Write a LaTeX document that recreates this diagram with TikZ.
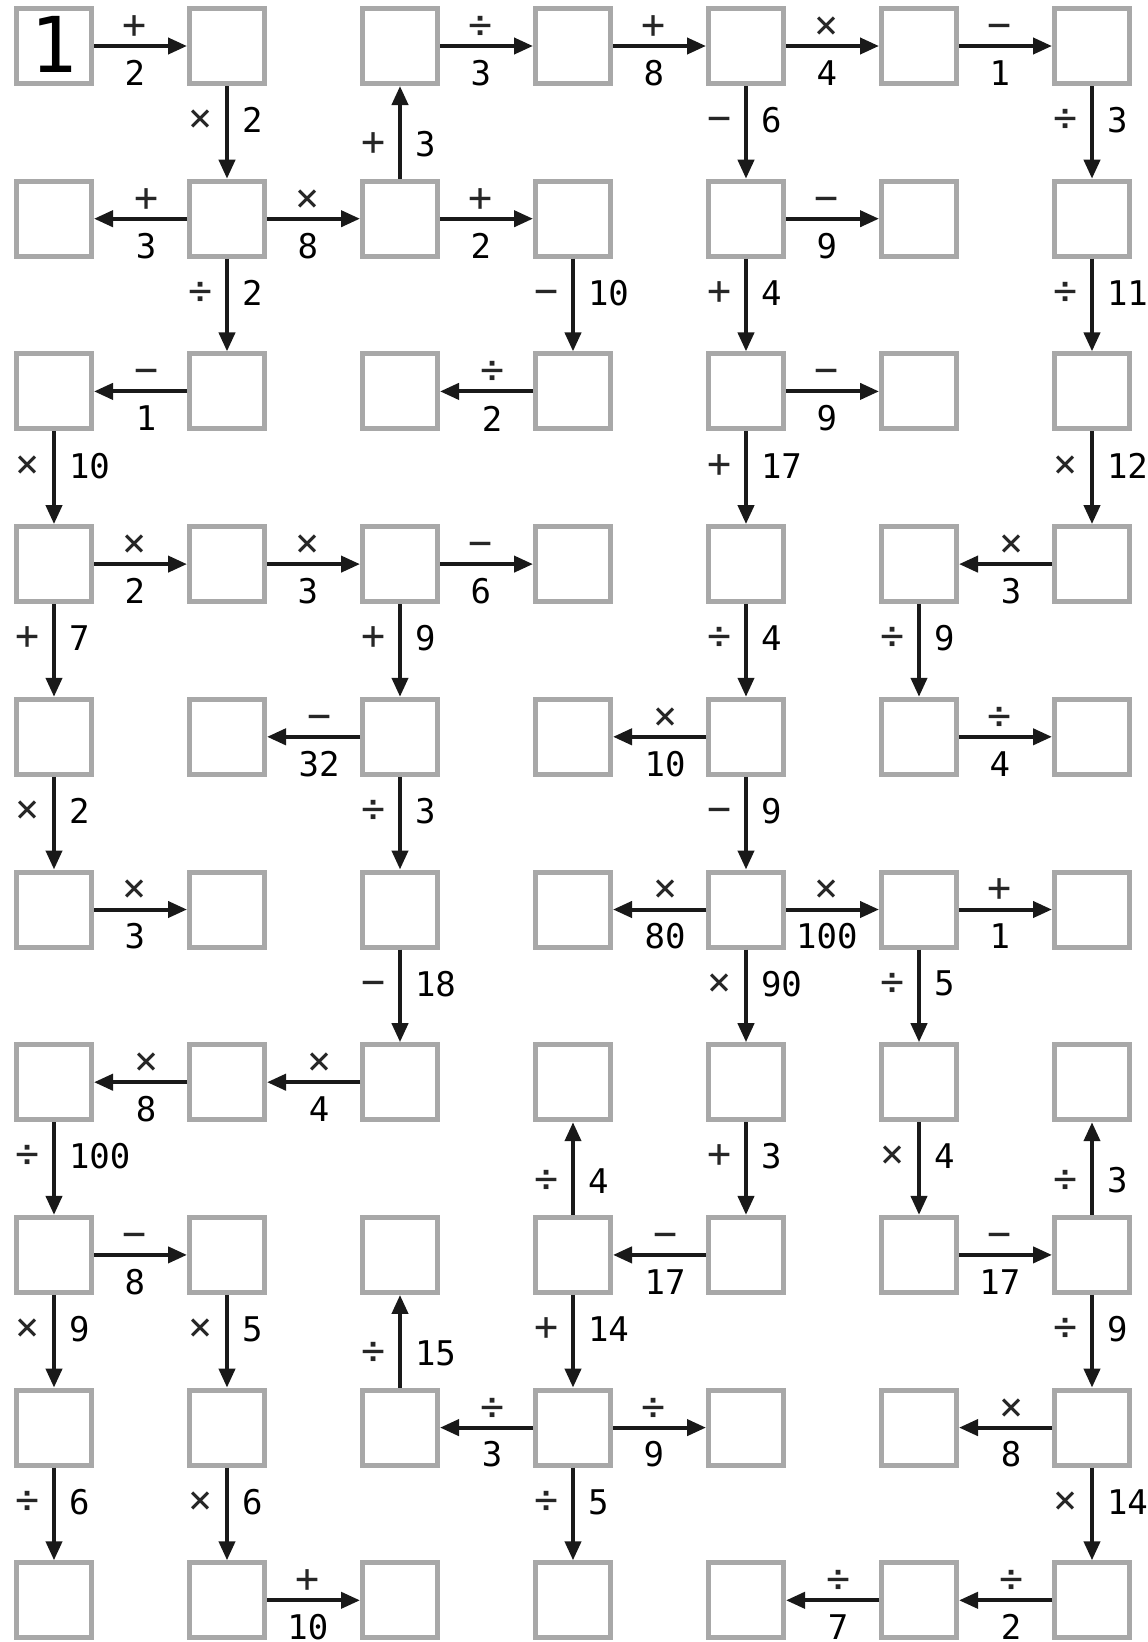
\documentclass[tikz,border=0pt]{standalone}
\usepackage{fontspec}
\newfontfamily\monofont{DejaVu Sans Mono}
\usetikzlibrary{arrows.meta}
\definecolor{boxgray}{HTML}{A8A8A8}
\newcommand\bigone{\monofont\fontsize{77}{77}\selectfont}
\newcommand\harrow[4]{\draw[arr] (#1) -- node[pos=.44,yshift=19pt,opl]{\vphantom{+}#3} node[pos=.44,yshift=-27pt,numl]{#4} (#2);}
\newcommand\varrow[4]{\draw[arr] (#1) -- node[pos=.37,xshift=-12pt,anchor=east,opl]{\vphantom{+}#3} node[pos=.37,xshift=13pt,anchor=west,numl]{#4} (#2);}
\begin{document}
\begin{tikzpicture}[x=1pt,y=-1pt,
  box/.style={draw=boxgray, line width=5pt, minimum width=75pt, minimum height=75pt, inner sep=0pt, fill=white},
  arr/.style={draw=black!90, line width=4pt, -{Triangle[length=19pt,width=16pt]}},
  opl/.style={font=\monofont\fontsize{40}{40}\selectfont, inner sep=0pt, text=black!85},
  numl/.style={font=\monofont\fontsize{34}{34}\selectfont, inner sep=0pt},
]
\fill[white] (0,0) rectangle (1148,1642);
\useasboundingbox (0,0) rectangle (1148,1642);
\foreach \r in {1,...,10}{\foreach \c in {1,...,7}{
  \node[box] (b\r-\c) at ({54+173*(\c-1)},{46+172.7*(\r-1)}) {\ifnum\r\c=11 \raisebox{4pt}{\bigone 1}\fi};
}}
% row 1
\harrow{b1-1}{b1-2}{+}{2}
\harrow{b1-3}{b1-4}{÷}{3}
\harrow{b1-4}{b1-5}{+}{8}
\harrow{b1-5}{b1-6}{×}{4}
\harrow{b1-6}{b1-7}{−}{1}
\varrow{b1-2}{b2-2}{×}{2}
\varrow{b2-3}{b1-3}{+}{3}
\varrow{b1-5}{b2-5}{−}{6}
\varrow{b1-7}{b2-7}{÷}{3}
% row 2
\harrow{b2-2}{b2-1}{+}{3}
\harrow{b2-2}{b2-3}{×}{8}
\harrow{b2-3}{b2-4}{+}{2}
\harrow{b2-5}{b2-6}{−}{9}
\varrow{b2-2}{b3-2}{÷}{2}
\varrow{b2-4}{b3-4}{−}{10}
\varrow{b2-5}{b3-5}{+}{4}
\varrow{b2-7}{b3-7}{÷}{11}
% row 3
\harrow{b3-2}{b3-1}{−}{1}
\harrow{b3-4}{b3-3}{÷}{2}
\harrow{b3-5}{b3-6}{−}{9}
\varrow{b3-1}{b4-1}{×}{10}
\varrow{b3-5}{b4-5}{+}{17}
\varrow{b3-7}{b4-7}{×}{12}
% row 4
\harrow{b4-1}{b4-2}{×}{2}
\harrow{b4-2}{b4-3}{×}{3}
\harrow{b4-3}{b4-4}{−}{6}
\harrow{b4-7}{b4-6}{×}{3}
\varrow{b4-1}{b5-1}{+}{7}
\varrow{b4-3}{b5-3}{+}{9}
\varrow{b4-5}{b5-5}{÷}{4}
\varrow{b4-6}{b5-6}{÷}{9}
% row 5
\harrow{b5-3}{b5-2}{−}{32}
\harrow{b5-5}{b5-4}{×}{10}
\harrow{b5-6}{b5-7}{÷}{4}
\varrow{b5-1}{b6-1}{×}{2}
\varrow{b5-3}{b6-3}{÷}{3}
\varrow{b5-5}{b6-5}{−}{9}
% row 6
\harrow{b6-1}{b6-2}{×}{3}
\harrow{b6-5}{b6-4}{×}{80}
\harrow{b6-5}{b6-6}{×}{100}
\harrow{b6-6}{b6-7}{+}{1}
\varrow{b6-3}{b7-3}{−}{18}
\varrow{b6-5}{b7-5}{×}{90}
\varrow{b6-6}{b7-6}{÷}{5}
% row 7
\harrow{b7-2}{b7-1}{×}{8}
\harrow{b7-3}{b7-2}{×}{4}
\varrow{b7-1}{b8-1}{÷}{100}
\varrow{b8-4}{b7-4}{÷}{4}
\varrow{b7-5}{b8-5}{+}{3}
\varrow{b7-6}{b8-6}{×}{4}
\varrow{b8-7}{b7-7}{÷}{3}
% row 8
\harrow{b8-1}{b8-2}{−}{8}
\harrow{b8-5}{b8-4}{−}{17}
\harrow{b8-6}{b8-7}{−}{17}
\varrow{b8-1}{b9-1}{×}{9}
\varrow{b8-2}{b9-2}{×}{5}
\varrow{b9-3}{b8-3}{÷}{15}
\varrow{b8-4}{b9-4}{+}{14}
\varrow{b8-7}{b9-7}{÷}{9}
% row 9
\harrow{b9-4}{b9-3}{÷}{3}
\harrow{b9-4}{b9-5}{÷}{9}
\harrow{b9-7}{b9-6}{×}{8}
\varrow{b9-1}{b10-1}{÷}{6}
\varrow{b9-2}{b10-2}{×}{6}
\varrow{b9-4}{b10-4}{÷}{5}
\varrow{b9-7}{b10-7}{×}{14}
% row 10
\harrow{b10-2}{b10-3}{+}{10}
\harrow{b10-6}{b10-5}{÷}{7}
\harrow{b10-7}{b10-6}{÷}{2}
\end{tikzpicture}
\end{document}
